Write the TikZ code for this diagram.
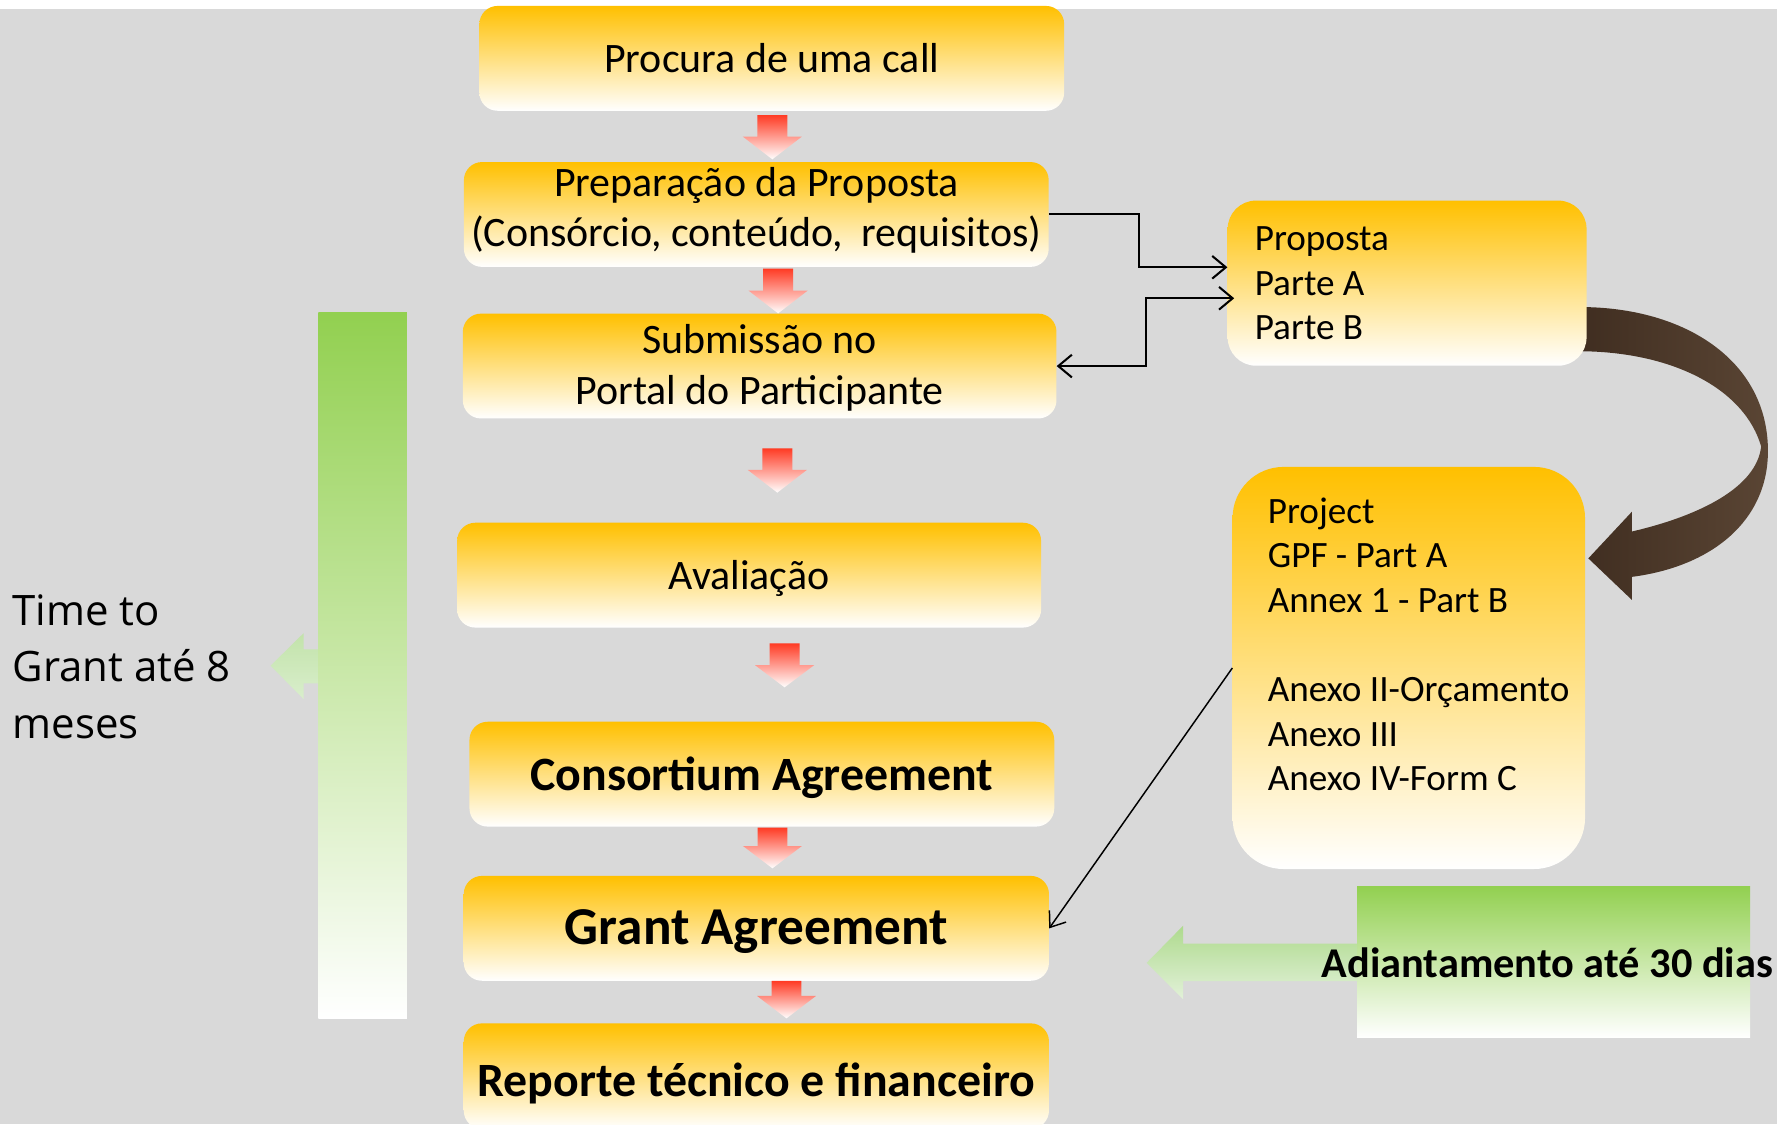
\documentclass[tikz,border=0pt]{standalone}
\usepackage{fontspec}
\setmainfont{Carlito}
\newfontfamily\osans{Open Sans}
\usetikzlibrary{arrows.meta,calc}
\definecolor{bggray}{HTML}{D9D9D9}
\definecolor{boxorange}{HTML}{FFC000}
\definecolor{boxmid}{HTML}{FFE0B0}
\definecolor{arrowred}{HTML}{FF3B24}
\definecolor{bargreen}{HTML}{92D050}
\definecolor{lightgreenA}{HTML}{C2E3AA}
\definecolor{lightgreenB}{HTML}{D9EECC}
\definecolor{advA}{HTML}{AEDA8E}
\definecolor{advB}{HTML}{E2F1D8}
\definecolor{brownA}{HTML}{3F2D20}
\definecolor{brownB}{HTML}{5A4534}
\newcommand{\flowarrow}[4]{%
  \shade[top color=arrowred, bottom color=white]
    (#1-13.2,#2) -- (#1+13.2,#2) -- (#1+13.2,#3) -- (#1+26,#3) -- (#1,#4)
    -- (#1-26,#3) -- (#1-13.2,#3) -- cycle;}
\tikzset{
  orangefade/.style={top color=boxorange, middle color=boxmid, bottom color=white},
  stepbox/.style={orangefade, rounded corners=16pt, inner sep=0pt,
    minimum height=92.5pt, align=center, font=\fontsize{37}{44.6}\selectfont},
  boldbox/.style={stepbox, font=\bfseries\fontsize{42.2}{48}\selectfont},
  sidebox/.style={orangefade, inner sep=0pt},
  sidetext/.style={anchor=base west, align=left, inner sep=0pt},
  conn/.style={line width=1.8pt, -{Straight Barb[length=12pt,width=20pt]}},
  conn2/.style={line width=1.3pt, -{Straight Barb[length=12pt,width=18pt]}}
}
\begin{document}
\begin{tikzpicture}[x=1pt,y=-1pt]
\useasboundingbox (0,0) rectangle (1568,992);
\clip (0,0) rectangle (1568,992);
\fill[white] (0,0) rectangle (1568,992);
\fill[bggray] (0,8) rectangle (1568,992);

% brown curved arrow (under the side boxes)
\shade[left color=brownA, right color=brownB] (1390,271) -- (1400,271) .. controls (1490,273) and (1560,320) .. (1560,398)
  .. controls (1560,460) and (1510,500) .. (1440,509) -- (1440,529.4) -- (1401.5,492.7)
  -- (1440,451.5) -- (1440,469) .. controls (1500,455) and (1550,430) .. (1554,394)
  .. controls (1540,345) and (1480,312) .. (1400,310) -- (1390,310) -- cycle;

% main flow boxes
\node[stepbox, minimum width=516pt, text height=25.2pt, text depth=0pt] (b1) at (681,51.5) {Procura de uma call};
\node[stepbox, minimum width=516pt, text height=56.7pt, text depth=0pt] (b2) at (667.35,189.25) {Preparação da Proposta\\(Consórcio, conteúdo,\ \ requisitos)};
\node[stepbox, minimum width=523.8pt, text height=67pt, text depth=0pt] (b3) at (670.3,323) {Submissão no\\Portal do Participante};
\node[stepbox, minimum width=515.3pt, text height=26.2pt, text depth=0pt] (b4) at (661,507.5) {Avaliação};
\node[boldbox, minimum width=516pt, text height=29.2pt, text depth=0pt] (b5) at (672.25,683.1) {Consortium Agreement};
\node[boldbox, minimum width=516.4pt, text height=29.3pt, text depth=0pt, font=\bfseries\fontsize{47}{54}\selectfont] (b6) at (667.4,819.15) {Grant Agreement};
\node[boldbox, minimum width=516.4pt, minimum height=93pt, text height=36.4pt, text depth=0pt] (b7) at (667.4,949.5) {Reporte técnico e financeiro};

% red flow arrows
\flowarrow{681.5}{101.5}{120.6}{140.6}
\flowarrow{686.6}{237}{256.5}{276.5}
\flowarrow{685.9}{395.6}{414.7}{434.7}
\flowarrow{692.3}{567.7}{587}{606.5}
\flowarrow{681.6}{730.3}{746.5}{766.2}
\flowarrow{694}{865.6}{878.8}{898.6}

% side boxes
\node[sidebox, rounded corners=25pt, minimum width=316.7pt, minimum height=145.7pt] (prop) at (1241.6,249.85) {};
\node[sidetext, font=\fontsize{32.8}{39}\selectfont] (proptext) at (1107,299.4) {Proposta\\Parte A\\Parte B};
\node[sidebox, rounded corners=45pt, minimum width=311pt, minimum height=354.8pt] (proj) at (1243.1,589.4) {};
\node[sidetext, font=\fontsize{32.8}{39.3}\selectfont] (projtext) at (1118.5,697.6)
  {Project\\GPF - Part A\\Annex 1 - Part B\\[39.3pt]Anexo II-Orçamento\\Anexo III\\Anexo IV-Form C};

% connectors
\draw[conn] (b2.east) -- ++(79.4,0) |- ([yshift=14pt]prop.west);
\draw[conn, {Straight Barb[length=12pt,width=20pt]}-{Straight Barb[length=12pt,width=20pt]}]
  (b3.east) -- ++(78.4,0) |- ([xshift=6pt,yshift=-13.35pt]prop.west);
\draw[conn2] (proj.west) -- (b6.east);

% time to grant bar
\shade[top color=lightgreenA, bottom color=lightgreenB] (238.8,587.4) -- (268,558.6) -- (268,573)
  -- (300,573) -- (300,603) -- (268,603) -- (268,617) -- cycle;
\node[shade, top color=bargreen, bottom color=white, inner sep=0pt, minimum width=78pt, minimum height=623pt] (timebar) at (320,587.5) {};
\node[sidetext, font=\osans\fontsize{37}{50}\selectfont] (timetext) at (11,651.5) {Time to\\Grant até 8\\meses};

% adiantamento
\node[shade, top color=bargreen, bottom color=white, inner sep=0pt, minimum width=346.7pt, minimum height=133.4pt] (advbar) at (1370.95,848.7) {};
\shade[top color=advA, bottom color=advB] (1011.8,849.6) -- (1044,816.8) -- (1044,832.7)
  -- (advbar.west |- 0,832.7) -- (advbar.west |- 0,865.8) -- (1044,865.8) -- (1044,881.7) -- cycle;
\node[anchor=base west, inner sep=0pt, font=\bfseries\fontsize{37.4}{44}\selectfont] (advtext) at (1166,862.4) {Adiantamento até 30 dias};
\end{tikzpicture}
\end{document}
